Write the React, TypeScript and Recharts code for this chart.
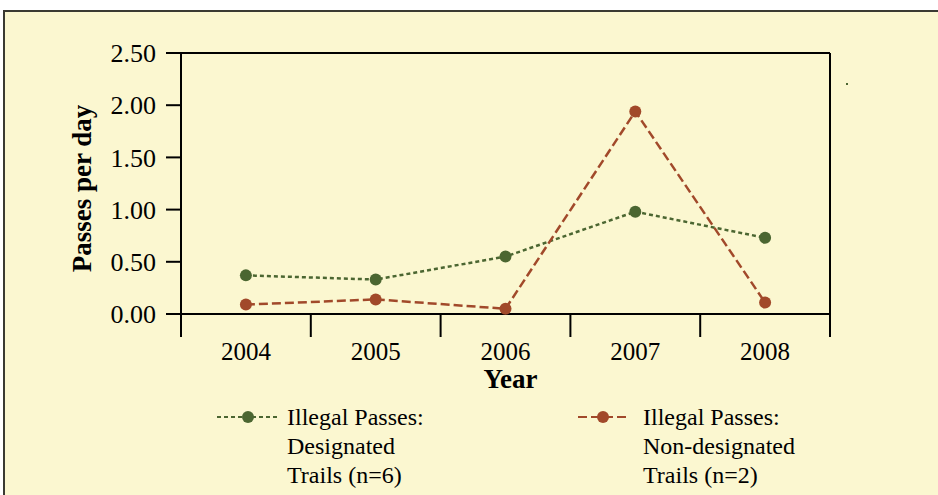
import React from 'react';
import { LineChart, Line, XAxis, YAxis, CartesianGrid } from 'recharts';

const years = ['2004', '2005', '2006', '2007', '2008'];
const designated = [0.37, 0.33, 0.55, 0.98, 0.73];
const nonDesignated = [0.09, 0.14, 0.05, 1.94, 0.11];
const yTicks = [0, 0.5, 1, 1.5, 2, 2.5];
const seriesNames = ['Illegal Passes:\nDesignated\nTrails (n=6)', 'Illegal Passes:\nNon-designated\nTrails (n=2)'];

const GREEN = '#4b6631';
const BROWN = '#a1492a';
const BG = '#fbf7d0';
const FONT = '"Liberation Serif", "Times New Roman", serif';

const data = years.map((year, i) => ({
  year,
  designated: designated[i],
  nonDesignated: nonDesignated[i],
}));

// category ticks: label in the band centre, tick marks on the band edges
function YearTick(props: any) {
  const { x, y, payload } = props;
  const half = payload.offset || 649 / 10;
  const last = payload.value === years[years.length - 1];
  return (
    <g>
      <line x1={x - half} x2={x - half} y1={y} y2={y + 23} stroke="#000" strokeWidth={2} />
      {last && <line x1={x + half} x2={x + half} y1={y} y2={y + 23} stroke="#000" strokeWidth={2} />}
      <text x={x} y={y + 37} textAnchor="middle" dominantBaseline="central" fontSize={25} fill="#000" fontFamily={FONT}>
        {payload.value}
      </text>
    </g>
  );
}

function LegendItem(props: { color: string; dash: string; name: string; left: number; iconWidth: number; gap: number }) {
  const { color, dash, name, left, iconWidth, gap } = props;
  return (
    <div style={{ position: 'absolute', left, top: 403, display: 'flex' }}>
      <svg width={iconWidth} height={30} style={{ marginRight: gap }}>
        <line x1={0} x2={iconWidth} y1={14} y2={14} stroke={color} strokeWidth={2} strokeDasharray={dash} />
        <circle cx={iconWidth / 2} cy={14} r={6} fill={color} />
      </svg>
      <div style={{ fontFamily: FONT, fontSize: 24, lineHeight: '29px', color: '#000', whiteSpace: 'pre' }}>{name}</div>
    </div>
  );
}

export default function App() {
  return (
    <div style={{ position: 'absolute', left: 0, top: 0, width: 938, height: 495, background: '#fff', overflow: 'hidden' }}>
      <div
        style={{
          position: 'absolute',
          left: 3,
          top: 10,
          right: 0,
          bottom: 0,
          background: BG,
          borderTop: '2px solid #3a3a32',
          borderLeft: '2px solid #3a3a32',
        }}
      />
      <div style={{ position: 'absolute', left: 0, top: 0 }}>
        <LineChart width={938} height={495} data={data} margin={{ top: 53, right: 108, bottom: 111, left: 60 }}>
          <CartesianGrid
            stroke="#000"
            strokeWidth={2}
            horizontalCoordinatesGenerator={({ offset }: any) => [offset.top]}
            verticalCoordinatesGenerator={({ offset }: any) => [offset.left + offset.width]}
          />
          <XAxis
            dataKey="year"
            scale="band"
            height={70}
            axisLine={{ stroke: '#000', strokeWidth: 2 }}
            tickLine={false}
            tickSize={0}
            tickMargin={0}
            tick={<YearTick />}
            interval={0}
            label={(p: any) => {
              const vb = p.viewBox || {};
              return (
                <text x={vb.x + vb.width / 2 + 5} y={379} textAnchor="middle" dominantBaseline="central" fontSize={27} fontWeight="bold" fontFamily={FONT} fill="#000">
                  Year
                </text>
              );
            }}
          />
          <YAxis
            width={121}
            domain={[0, 2.5]}
            ticks={yTicks}
            interval={0}
            tickFormatter={(v: number) => v.toFixed(2)}
            axisLine={{ stroke: '#000', strokeWidth: 2 }}
            tickLine={{ stroke: '#000', strokeWidth: 2 }}
            tickSize={15}
            tickMargin={10}
            tick={{ fontSize: 26, fill: '#000', fontFamily: FONT }}
            label={(p: any) => {
              const vb = p.viewBox || {};
              const cx = 82;
              const cy = vb.y + vb.height / 2 + 5;
              return (
                <text x={cx} y={cy} transform={`rotate(-90 ${cx} ${cy})`} textAnchor="middle" dominantBaseline="central" fontSize={27} fontWeight="bold" fontFamily={FONT} fill="#000">
                  Passes per day
                </text>
              );
            }}
          />
          <Line
            dataKey="designated"
            stroke={GREEN}
            strokeWidth={2.5}
            strokeDasharray="4 3"
            dot={{ r: 6, fill: GREEN, stroke: 'none' }}
            activeDot={false}
            isAnimationActive={false}
          />
          <Line
            dataKey="nonDesignated"
            stroke={BROWN}
            strokeWidth={2.5}
            strokeDasharray="9 4"
            dot={{ r: 6, fill: BROWN, stroke: 'none' }}
            activeDot={false}
            isAnimationActive={false}
          />
        </LineChart>
      </div>
      <LegendItem color={GREEN} dash="4 3" name={seriesNames[0]} left={217} iconWidth={62} gap={8} />
      <LegendItem color={BROWN} dash="9 4" name={seriesNames[1]} left={578} iconWidth={50} gap={15} />
      <div style={{ position: 'absolute', left: 846, top: 83, width: 2, height: 2, background: GREEN }} />
    </div>
  );
}
